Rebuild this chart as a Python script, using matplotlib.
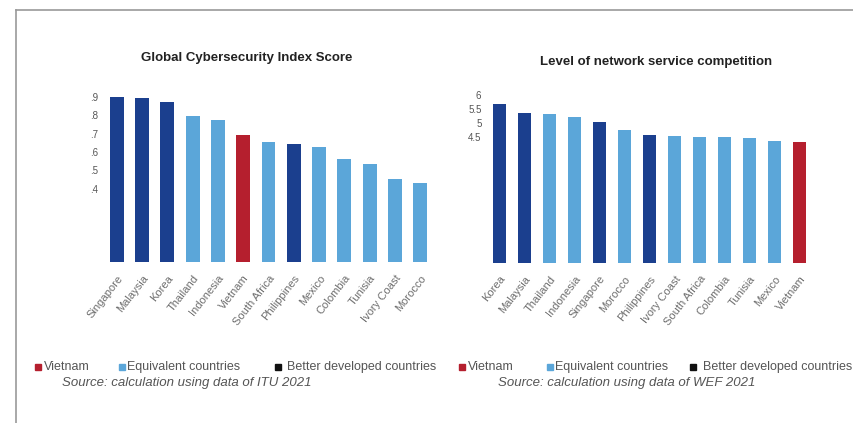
import matplotlib
matplotlib.use('Agg')
import matplotlib.pyplot as plt
from matplotlib.lines import Line2D

plt.rcParams['font.family'] = ['Liberation Sans', 'DejaVu Sans']

# ---------------- data ----------------
gci_countries = ['Singapore', 'Malaysia', 'Korea', 'Thailand', 'Indonesia', 'Vietnam',
                 'South Africa', 'Philippines', 'Mexico', 'Colombia', 'Tunisia',
                 'Ivory Coast', 'Morocco']
gci_scores = [0.902, 0.893, 0.875, 0.796, 0.775, 0.693, 0.653, 0.644, 0.629,
              0.562, 0.535, 0.454, 0.429]
gci_groups = ['better', 'better', 'better', 'equiv', 'equiv', 'vn', 'equiv', 'better',
              'equiv', 'equiv', 'equiv', 'equiv', 'equiv']
gci_ticks = [0.4, 0.5, 0.6, 0.7, 0.8, 0.9]
gci_ticklabels = ['.4', '.5', '.6', '.7', '.8', '.9']

net_countries = ['Korea', 'Malaysia', 'Thailand', 'Indonesia', 'Singapore', 'Morocco',
                 'Philippines', 'Ivory Coast', 'South Africa', 'Colombia', 'Tunisia',
                 'Mexico', 'Vietnam']
net_scores = [5.68, 5.36, 5.33, 5.22, 5.02, 4.75, 4.57, 4.53, 4.51, 4.50, 4.45, 4.35, 4.33]
net_groups = ['better', 'better', 'equiv', 'equiv', 'better', 'equiv', 'better', 'equiv',
              'equiv', 'equiv', 'equiv', 'equiv', 'vn']
net_ticks = [4.5, 5, 5.5, 6]
net_ticklabels = ['4.5', '5', '5.5', '6']

legend_labels = ['Vietnam', 'Equivalent countries', 'Better developed countries']
# --------------------------------------

cores = {'vn': '#b51f2e', 'equiv': '#5ba6d9', 'better': '#1b3f8e'}
cor_texto = '#6e6e6e'

fig = plt.figure(figsize=(8.54, 4.23), dpi=100)
W, H = 854.0, 423.0


def eixo(x0, x1, y_base, y_top):
    return fig.add_axes([x0 / W, (H - y_base) / H, (x1 - x0) / W, (y_base - y_top) / H])


def barras(ax, paises, valores, grupos, ymax, ticks, ticklabels):
    x = list(range(len(paises)))
    ax.bar(x, valores, width=0.55, color=[cores[g] for g in grupos])
    ax.set_xlim(-0.5, len(paises) - 0.5)
    ax.set_ylim(0, ymax)
    ax.set_yticks(ticks)
    ax.set_yticklabels(ticklabels, fontsize=7, color='#555555')
    ax.set_xticks(x)
    ax.set_xticklabels(paises, rotation=52, ha='right', rotation_mode='anchor',
                       fontsize=8, color=cor_texto)
    ax.tick_params(axis='y', length=0, pad=4)
    ax.tick_params(axis='x', length=0, pad=8)
    for s in ax.spines.values():
        s.set_visible(False)


ax1 = eixo(104, 433, 262, 262 - 0.92 * 183.3)
barras(ax1, gci_countries, gci_scores, gci_groups, 0.92, gci_ticks, gci_ticklabels)

ax2 = eixo(487, 812, 262.7, 262.7 - 6.1 * 27.95)
barras(ax2, net_countries, net_scores, net_groups, 6.1, net_ticks, net_ticklabels)

# titles
fig.text(247 / W, 1 - 58 / H, 'Global Cybersecurity Index Score', ha='center', va='center',
         fontsize=9.5, fontweight='bold', color='#222222')
fig.text(656 / W, 1 - 62 / H, 'Level of network service competition', ha='center',
         va='center', fontsize=9.5, fontweight='bold', color='#222222')

# legends
def legenda(pos_quad, pos_txt, y):
    for g, xq, xt, lab in zip(['vn', 'equiv', 'better'], pos_quad, pos_txt, legend_labels):
        cor = '#111111' if g == 'better' else cores[g]
        fig.add_artist(Line2D([xq / W], [1 - y / H], marker='s', markersize=4.5,
                              color=cor, linestyle='none'))
        fig.text(xt / W, 1 - y / H, lab, ha='left', va='center', fontsize=9,
                 color='#555555')


legenda([38, 122, 278], [44, 127, 287], 367)
legenda([462, 550, 693], [468, 555, 703], 367)

fig.text(62 / W, 1 - 383 / H, 'Source: calculation using data of ITU 2021', ha='left',
         va='center', fontsize=9.5, style='italic', color='#555555')
fig.text(498 / W, 1 - 383 / H, 'Source: calculation using data of WEF 2021', ha='left',
         va='center', fontsize=9.5, style='italic', color='#555555')

# frame
fig.add_artist(Line2D([16 / W, 1], [1 - 10 / H, 1 - 10 / H], color='#999999', linewidth=1.2))
fig.add_artist(Line2D([16 / W, 16 / W], [0, 1 - 10 / H], color='#999999', linewidth=1.2))

fig.savefig('out.png', dpi=100)
